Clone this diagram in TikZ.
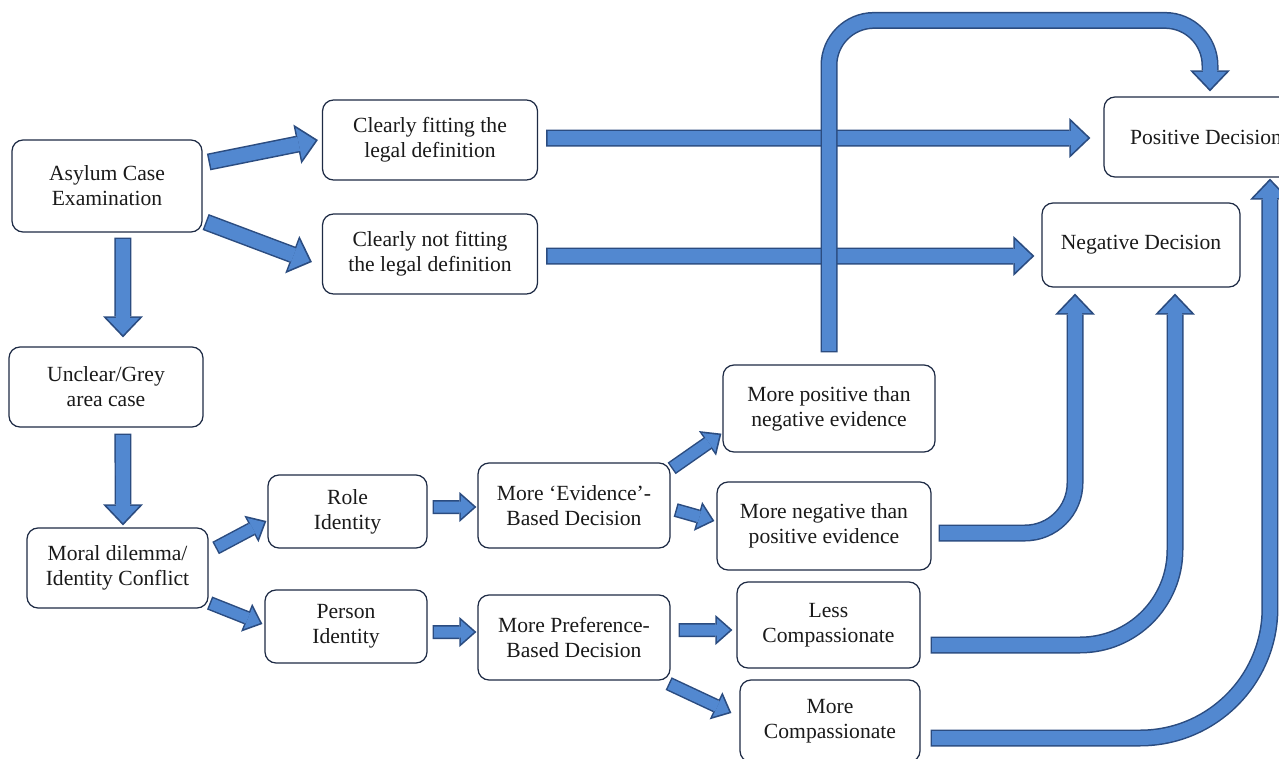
\documentclass[tikz,border=0pt]{standalone}
\usepackage{fontspec}
\setmainfont{Liberation Serif}
\usetikzlibrary{arrows.meta}
\definecolor{boxline}{HTML}{1E2B45}
\definecolor{arrowfill}{HTML}{5288D0}
\definecolor{arrowedge}{HTML}{2B4C80}
\definecolor{boxtext}{HTML}{1A1A1A}

\begin{document}
\begin{tikzpicture}[x=0.02cm, y=-0.02cm,
		box/.style={draw=boxline, fill=white, line width=0.7pt, rounded corners=0.22cm, align=center, text=boxtext, font=\fontsize{12.3}{14.2}\selectfont, inner sep=0pt},
		bigarrow/.style={draw=arrowfill, line width=0.28cm, -{Triangle[width=0.65cm,length=0.34cm,line width=0pt]}, shorten >=0.05cm, shorten <=0.03cm,
			preaction={draw=arrowedge, line width=0.34cm, shorten >=0pt, shorten <=0pt, -{Triangle[width=0.8cm,length=0.42cm,line width=0pt]}}},
		smallarrow/.style={draw=arrowfill, line width=0.22cm, -{Triangle[width=0.46cm,length=0.26cm,line width=0pt]}, shorten >=0.05cm, shorten <=0.03cm,
			preaction={draw=arrowedge, line width=0.28cm, shorten >=0pt, shorten <=0pt, -{Triangle[width=0.6cm,length=0.34cm,line width=0pt]}}}
	]
	\clip (0,0) rectangle (1279,758);
	\fill[white] (0,0) rectangle (1279,758);

	% boxes
	\node[box, minimum width=3.8cm, minimum height=1.84cm] (asylum) at (107,186) {Asylum Case\\Examination};
	\node[box, minimum width=4.3cm, minimum height=1.6cm] (fit) at (430,140) {Clearly fitting the\\legal definition};
	\node[box, minimum width=4.3cm, minimum height=1.6cm] (notfit) at (430,254) {Clearly not fitting\\the legal definition};
	\node[box, minimum width=4.08cm, minimum height=1.6cm] (positive) at (1206,137) {Positive Decision};
	\node[box, minimum width=3.96cm, minimum height=1.68cm] (negative) at (1141,245) {Negative Decision};
	\node[box, minimum width=3.88cm, minimum height=1.6cm] (unclear) at (106,387) {Unclear/Grey\\area case};
	\node[box, minimum width=3.62cm, minimum height=1.6cm] (moral) at (117.5,568) {Moral dilemma/\\Identity Conflict};
	\node[box, minimum width=3.18cm, minimum height=1.46cm] (role) at (347.5,511.5) {Role\\Identity};
	\node[box, minimum width=3.24cm, minimum height=1.46cm] (person) at (346,626.5) {Person\\Identity};
	\node[box, minimum width=3.84cm, minimum height=1.7cm] (evidence) at (574,505.5) {More `Evidence'-\\Based Decision};
	\node[box, minimum width=3.84cm, minimum height=1.7cm] (preference) at (574,637.5) {More Preference-\\Based Decision};
	\node[box, minimum width=4.24cm, minimum height=1.74cm] (morepos) at (829,408.5) {More positive than\\negative evidence};
	\node[box, minimum width=4.28cm, minimum height=1.76cm] (moreneg) at (824,526) {More negative than\\positive evidence};
	\node[box, minimum width=3.66cm, minimum height=1.72cm] (lesscomp) at (828.5,625) {Less\\Compassionate};
	\node[box, minimum width=3.6cm, minimum height=1.64cm] (morecomp) at (830,721) {More\\Compassionate};

	% first split
	\draw[bigarrow] ([xshift=0.12cm,yshift=0.48cm]asylum.east) -- ([xshift=-0.08cm,yshift=0cm]fit.west);
	\draw[bigarrow] ([xshift=0.06cm,yshift=-0.72cm]asylum.east) -- ([xshift=-0.2cm,yshift=-0.16cm]notfit.west);
	\draw[bigarrow] ([xshift=0.32cm,yshift=-0.1cm]asylum.south) -- ([xshift=0.34cm,yshift=0.18cm]unclear.north);
	\draw[bigarrow] ([xshift=0.34cm,yshift=-0.12cm]unclear.south) -- ([xshift=0.11cm,yshift=0.04cm]moral.north);

	% clear cases
	\draw[bigarrow] ([xshift=0.16cm,yshift=0.04cm]fit.east) -- ([xshift=-0.26cm,yshift=-0.02cm]positive.west);
	\draw[bigarrow] ([xshift=0.16cm,yshift=-0.04cm]notfit.east) -- ([xshift=-0.14cm,yshift=-0.22cm]negative.west);

	% identity paths
	\draw[smallarrow] ([xshift=0.14cm,yshift=0.4cm]moral.east) -- ([xshift=-0.02cm,yshift=-0.19cm]role.west);
	\draw[smallarrow] ([xshift=0.02cm,yshift=-0.7cm]moral.east) -- ([xshift=-0.04cm,yshift=0.05cm]person.west);
	\draw[smallarrow] ([xshift=0.1cm,yshift=0.09cm]role.east) -- ([xshift=-0.02cm,yshift=-0.03cm]evidence.west);
	\draw[smallarrow] ([xshift=0.1cm,yshift=-0.11cm]person.east) -- ([xshift=-0.02cm,yshift=0.11cm]preference.west);
	\draw[smallarrow] ([xshift=0.02cm,yshift=-0.12cm]evidence.north east) -- ([xshift=-0.02cm,yshift=0.38cm]morepos.south west);
	\draw[smallarrow] ([xshift=0.1cm,yshift=-0.09cm]evidence.east) -- ([xshift=-0.04cm,yshift=0.1cm]moreneg.west);
	\draw[smallarrow] ([xshift=0.16cm,yshift=0.15cm]preference.east) -- ([xshift=-0.08cm,yshift=-0.1cm]lesscomp.west);
	\draw[smallarrow] ([xshift=-0.04cm,yshift=-0.06cm]preference.south east) -- ([xshift=-0.16cm,yshift=0.16cm]morecomp.west);

	% back to the decisions
	\draw[bigarrow, rounded corners=0.9cm] ([yshift=0.24cm]morepos.north) |- ([xshift=0.08cm,yshift=1.52cm]positive.north) -- ([xshift=0.08cm,yshift=0.1cm]positive.north);
	\draw[bigarrow, rounded corners=1cm] ([xshift=0.14cm,yshift=-0.14cm]moreneg.east) -| ([xshift=-1.32cm,yshift=-0.12cm]negative.south);
	\draw[bigarrow, rounded corners=1.9cm] ([xshift=0.2cm,yshift=-0.4cm]lesscomp.east) -| ([xshift=0.68cm,yshift=-0.12cm]negative.south);
	\draw[bigarrow, rounded corners=2.6cm] ([xshift=0.2cm,yshift=-0.34cm]morecomp.east) -| ([xshift=1.28cm,yshift=-0.02cm]positive.south);
\end{tikzpicture}
\end{document}
